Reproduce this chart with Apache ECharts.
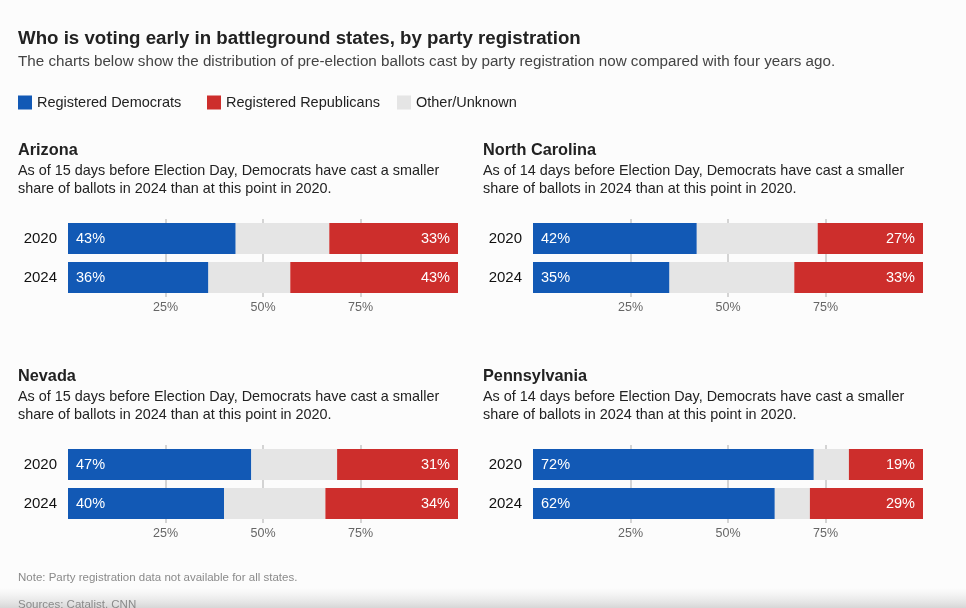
<!DOCTYPE html>
<html><head><meta charset="utf-8">
<script src="https://cdn.jsdelivr.net/npm/echarts@6/dist/echarts.min.js"></script>
<style>html,body{margin:0;padding:0;background:#fff}#c{width:966px;height:608px}</style>
</head><body><div id="c"></div>
<script>
const years = ['2020', '2024'];
const states = ['Arizona', 'North Carolina', 'Nevada', 'Pennsylvania'];
const notes = [
  'As of 15 days before Election Day, Democrats have cast a smaller\nshare of ballots in 2024 than at this point in 2020.',
  'As of 14 days before Election Day, Democrats have cast a smaller\nshare of ballots in 2024 than at this point in 2020.',
  'As of 15 days before Election Day, Democrats have cast a smaller\nshare of ballots in 2024 than at this point in 2020.',
  'As of 14 days before Election Day, Democrats have cast a smaller\nshare of ballots in 2024 than at this point in 2020.'
];
const demShare   = [[43, 36], [42, 35], [47, 40], [72, 62]];
const otherShare = [[24, 21], [31, 32], [22, 26], [9, 9]];
const repShare   = [[33, 43], [27, 33], [31, 34], [19, 29]];
const tickLabels = {25: '25%', 50: '50%', 75: '75%'};
const legendNames = ['Registered Democrats', 'Registered Republicans', 'Other/Unknown'];

const FONT = '"Liberation Sans", Arial, sans-serif';
const BLUE = '#1259b5', RED = '#cd2e2c', GRAY = '#e5e5e5';
const panelPos = [[18, 68, 149, 219], [483, 533, 149, 219], [18, 68, 375, 445], [483, 533, 375, 445]];
const legendLeft = [18, 207, 397];

const chart = echarts.init(document.getElementById('c'), null, {renderer: 'canvas'});
const grids = [], xAxes = [], yAxes = [], series = [], titles = [];

titles.push({text: 'Who is voting early in battleground states, by party registration', left: 18, top: 29, padding: 0,
  textStyle: {fontFamily: FONT, fontSize: 18.7, fontWeight: 'bold', color: '#222'}});
titles.push({text: 'The charts below show the distribution of pre-election ballots cast by party registration now compared with four years ago.', left: 18, top: 54, padding: 0,
  textStyle: {fontFamily: FONT, fontSize: 15.2, fontWeight: 'normal', color: '#444'}});
titles.push({text: 'Note: Party registration data not available for all states.', left: 18, top: 572, padding: 0,
  textStyle: {fontFamily: FONT, fontSize: 11.5, fontWeight: 'normal', color: '#8a8a8a'}});
titles.push({text: 'Sources: Catalist, CNN', left: 18, top: 599, padding: 0,
  textStyle: {fontFamily: FONT, fontSize: 11.5, fontWeight: 'normal', color: '#8a8a8a'}});

states.forEach((st, i) => {
  const [tx, gx, ty, gy] = panelPos[i];
  titles.push({text: st, subtext: notes[i], left: tx, top: ty - 6, itemGap: 3, padding: 0,
    textStyle: {fontFamily: FONT, fontSize: 16.3, fontWeight: 'bold', color: '#222'},
    subtextStyle: {fontFamily: FONT, fontSize: 14.4, color: '#222', lineHeight: 18}});
  grids.push({left: gx, top: gy, width: 390, height: 78, containLabel: false});
  xAxes.push({type: 'value', gridIndex: i, min: 0, max: 100, interval: 25,
    axisLine: {show: false}, axisTick: {show: false},
    splitLine: {show: true, showMinLine: false, showMaxLine: false, lineStyle: {color: '#d4d4d4', width: 2}},
    axisLabel: {margin: 4, color: '#666', fontFamily: FONT, fontSize: 12.5,
      formatter: v => tickLabels[v] || ''}});
  yAxes.push({type: 'category', gridIndex: i, data: years, inverse: true,
    axisLine: {show: false}, axisTick: {show: false},
    axisLabel: {margin: 11, color: '#111', fontFamily: FONT, fontSize: 15}});
  const common = {type: 'bar', stack: 'st' + i, xAxisIndex: i, yAxisIndex: i, barWidth: 31, animation: false};
  series.push(Object.assign({}, common, {name: legendNames[0], data: demShare[i],
    itemStyle: {color: BLUE},
    label: {show: true, position: 'insideLeft', distance: 8, formatter: '{c}%', color: '#fff', fontFamily: FONT, fontSize: 14.5}}));
  series.push(Object.assign({}, common, {name: legendNames[2], data: otherShare[i],
    itemStyle: {color: GRAY}, label: {show: false}}));
  series.push(Object.assign({}, common, {name: legendNames[1], data: repShare[i],
    itemStyle: {color: RED},
    label: {show: true, position: 'insideRight', distance: 8, formatter: '{c}%', color: '#fff', fontFamily: FONT, fontSize: 14.5}}));
});

const legends = legendNames.map((n, k) => ({left: legendLeft[k], top: 95, padding: 0, itemWidth: 14, itemHeight: 14, icon: 'rect',
  data: [n], textStyle: {fontFamily: FONT, fontSize: 14.5, color: '#222'}, selectedMode: false}));

chart.setOption({
  backgroundColor: '#fcfcfc',
  animation: false,
  title: titles,
  legend: legends,
  grid: grids, xAxis: xAxes, yAxis: yAxes, series: series,
  graphic: [{type: 'rect', left: 0, top: 588, shape: {width: 966, height: 20}, silent: true, z: -1,
    style: {fill: new echarts.graphic.LinearGradient(0, 0, 0, 1, [{offset: 0, color: 'rgba(230,230,230,0)'}, {offset: 1, color: 'rgba(215,215,215,1)'}])}}]
});
</script></body></html>
